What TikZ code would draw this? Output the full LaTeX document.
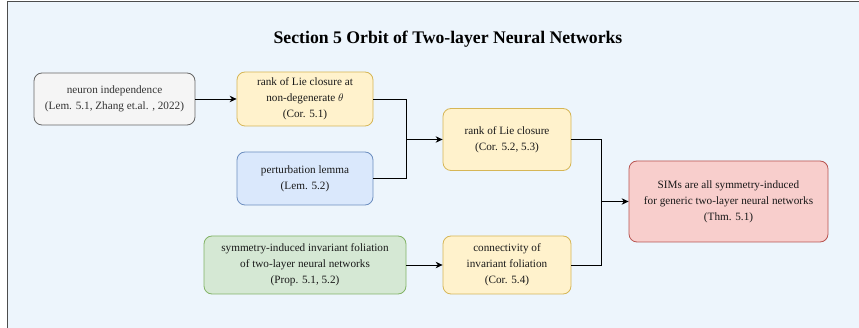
\documentclass[tikz,border=0pt]{standalone}
\usepackage{fontspec}
\setmainfont{Liberation Serif}
\usetikzlibrary{arrows.meta}
\definecolor{bgblue}{HTML}{EDF5FC}
\definecolor{framegray}{HTML}{4D4D4D}
\definecolor{grayfill}{HTML}{F5F5F5}
\definecolor{graydraw}{HTML}{666666}
\definecolor{yelfill}{HTML}{FFF2CC}
\definecolor{yeldraw}{HTML}{D6B656}
\definecolor{bluefill}{HTML}{DAE8FC}
\definecolor{bluedraw}{HTML}{6C8EBF}
\definecolor{grnfill}{HTML}{D5E8D4}
\definecolor{grndraw}{HTML}{82B366}
\definecolor{redfill}{HTML}{F8CECC}
\definecolor{reddraw}{HTML}{B85450}
\definecolor{txtgray}{HTML}{333333}
\tikzset{
  box/.style={rectangle, rounded corners=8pt, align=center, line width=0.8pt,
    inner sep=2pt, font=\fontsize{11.2}{16}\selectfont, text=black!90},
  greybox/.style={box, fill=grayfill, draw=graydraw, text=txtgray},
  yelbox/.style={box, fill=yelfill, draw=yeldraw},
  bluebox/.style={box, fill=bluefill, draw=bluedraw},
  grnbox/.style={box, fill=grnfill, draw=grndraw},
  redbox/.style={box, fill=redfill, draw=reddraw},
  conn/.style={draw=black, line width=0.9pt},
  arr/.style={conn, -{Stealth[length=7pt,width=6.5pt]}},
}
\begin{document}
\begin{tikzpicture}[x=1pt,y=-1pt]
\useasboundingbox (0,0) rectangle (859,328);
\clip (0,0) rectangle (859,328);
\fill[white] (0,0) rectangle (859,328);
\draw[framegray, line width=1.5pt, fill=bgblue] (7.5,1.5) rectangle (880,350);

\node[font=\bfseries\fontsize{17.7}{20}\selectfont, text=black] (title) at (448,39) {Section 5 Orbit of Two-layer Neural Networks};

\node[greybox, minimum width=161pt, minimum height=52pt] (neuron) at (114.5,99) {neuron independence\\(Lem. 5.1, Zhang et.al. , 2022)};
\node[yelbox, minimum width=136pt, minimum height=54pt] (rankA) at (305,99) {rank of Lie closure at\\non-degenerate $\theta$\\(Cor. 5.1)};
\node[bluebox, minimum width=136pt, minimum height=53pt] (pert) at (305,178.5) {perturbation lemma\\(Lem. 5.2)};
\node[grnbox, minimum width=202pt, minimum height=58pt] (sym) at (305,265) {symmetry-induced invariant foliation\\of two-layer neural networks\\(Prop. 5.1, 5.2)};
\node[yelbox, minimum width=128pt, minimum height=62pt] (rankB) at (507,139.5) {rank of Lie closure\\(Cor. 5.2, 5.3)};
\node[yelbox, minimum width=128pt, minimum height=58pt] (conn) at (507,265) {connectivity of\\invariant foliation\\(Cor. 5.4)};
\node[redbox, minimum width=199pt, minimum height=81pt] (sims) at (728.5,201.5) {SIMs are all symmetry-induced\\for generic two-layer neural networks\\(Thm. 5.1)};

\coordinate (j1) at (406,139.5);
\coordinate (j2) at (601,201.5);

\draw[arr] (neuron) -- (rankA);
\draw[conn] (rankA.east) -| (j1);
\draw[conn] (pert.east) -| (j1);
\draw[arr] (j1) -- (rankB.west);
\draw[arr] (sym) -- (conn);
\draw[conn] (rankB.east) -| (j2);
\draw[conn] (conn.east) -| (j2);
\draw[arr] (j2) -- (sims.west);
\end{tikzpicture}
\end{document}
